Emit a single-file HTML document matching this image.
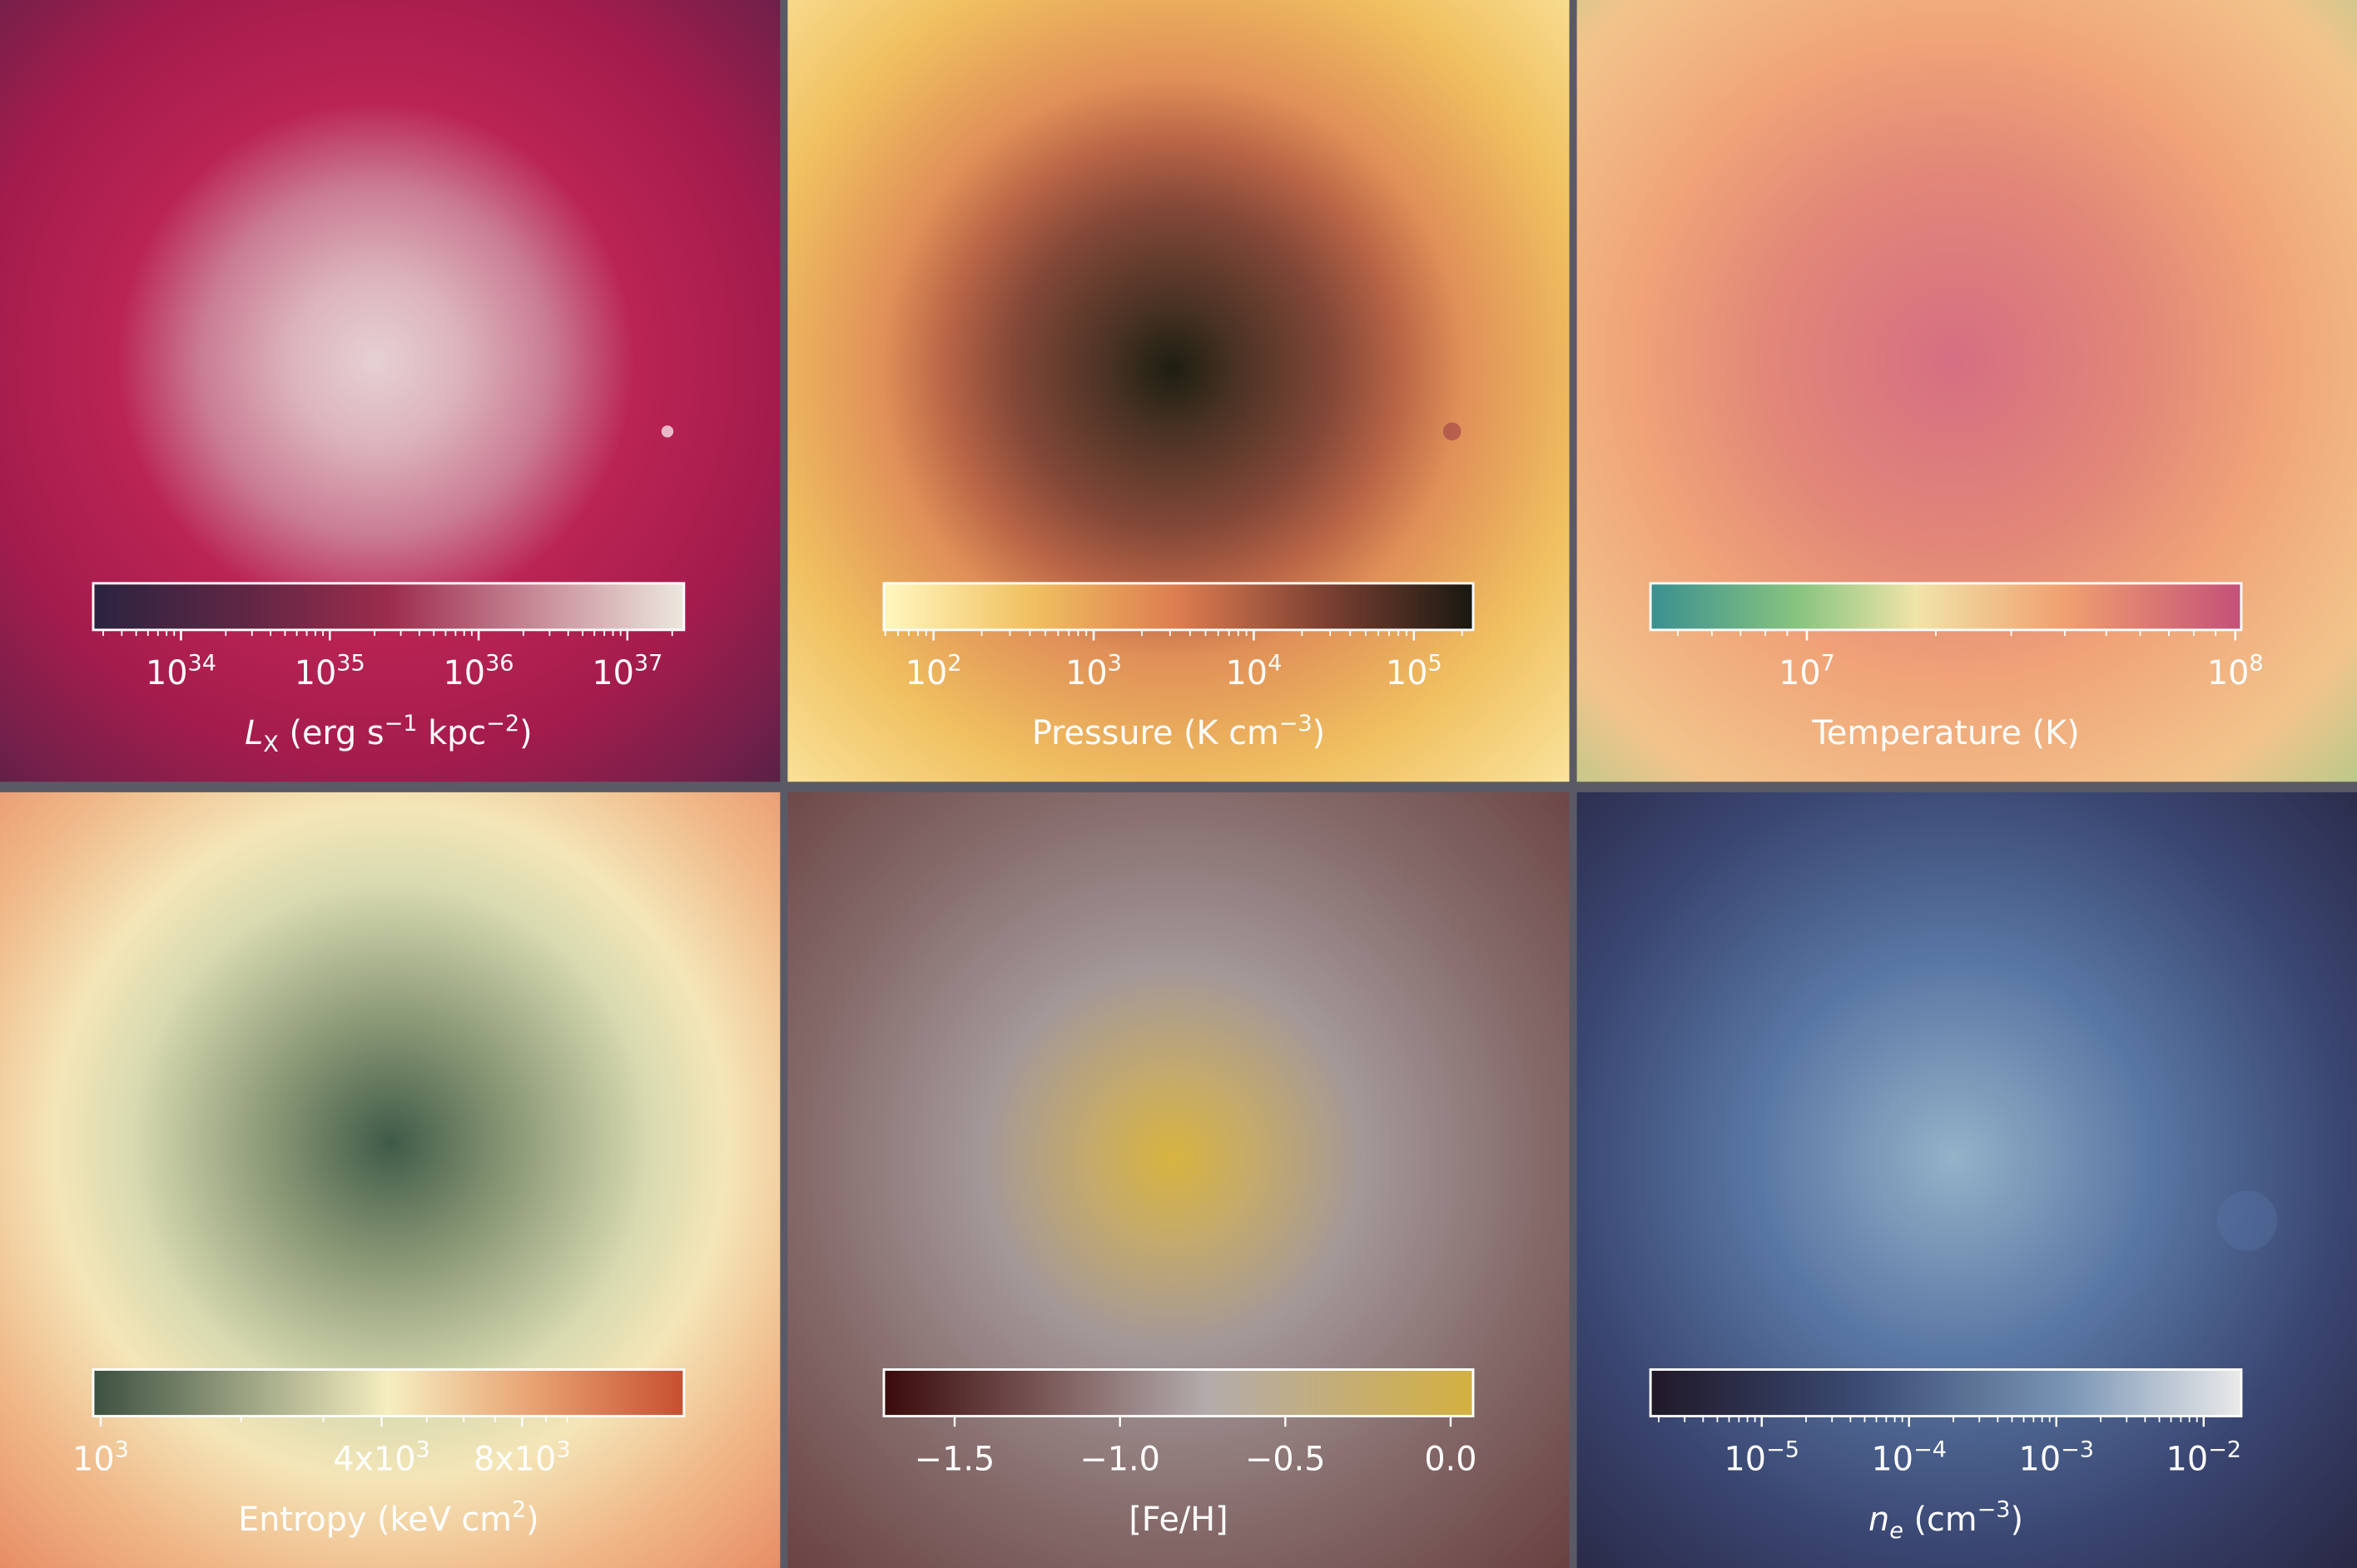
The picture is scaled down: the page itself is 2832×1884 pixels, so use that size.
<!DOCTYPE html>
<html><head><meta charset="utf-8"><style>html,body{margin:0;padding:0;background:#5a5a66}svg{display:block}text{font-family:"DejaVu Sans","Liberation Sans",sans-serif;fill:#fff}</style></head>
<body>
<svg id="fig" width="2832" height="1884" viewBox="0 0 1568 1043" preserveAspectRatio="none" xmlns="http://www.w3.org/2000/svg">
<defs>
<radialGradient id="bg1" cx="250" cy="240" r="430" gradientUnits="userSpaceOnUse"><stop offset="0" stop-color="#e6d0d4"/><stop offset="0.13" stop-color="#dcb4bc"/><stop offset="0.27" stop-color="#ca7c94"/><stop offset="0.4" stop-color="#ba2454"/><stop offset="0.62" stop-color="#a41c4c"/><stop offset="0.82" stop-color="#72204a"/><stop offset="1" stop-color="#3a2240"/></radialGradient>
<radialGradient id="bg2" cx="780" cy="245" r="430" gradientUnits="userSpaceOnUse"><stop offset="0" stop-color="#1c1e10"/><stop offset="0.1" stop-color="#4a3224"/><stop offset="0.25" stop-color="#844838"/><stop offset="0.35" stop-color="#b86446"/><stop offset="0.45" stop-color="#e09058"/><stop offset="0.65" stop-color="#f0c060"/><stop offset="1" stop-color="#fff4b8"/></radialGradient>
<radialGradient id="bg3" cx="1300" cy="240" r="430" gradientUnits="userSpaceOnUse"><stop offset="0" stop-color="#d66e82"/><stop offset="0.3" stop-color="#e28878"/><stop offset="0.5" stop-color="#f0a478"/><stop offset="0.75" stop-color="#f2c48c"/><stop offset="1" stop-color="#98cc88"/></radialGradient>
<radialGradient id="bg4" cx="260" cy="760" r="430" gradientUnits="userSpaceOnUse"><stop offset="0" stop-color="#3e5a48"/><stop offset="0.15" stop-color="#7c8c6c"/><stop offset="0.4" stop-color="#d8dab0"/><stop offset="0.52" stop-color="#f4e6b8"/><stop offset="0.7" stop-color="#f0b888"/><stop offset="0.88" stop-color="#e89068"/><stop offset="1" stop-color="#d06434"/></radialGradient>
<radialGradient id="bg5" cx="780" cy="770" r="420" gradientUnits="userSpaceOnUse"><stop offset="0" stop-color="#d8b440"/><stop offset="0.13" stop-color="#c4aa6c"/><stop offset="0.3" stop-color="#a49898"/><stop offset="0.6" stop-color="#846868"/><stop offset="1" stop-color="#603434"/></radialGradient>
<radialGradient id="bg6" cx="1300" cy="770" r="430" gradientUnits="userSpaceOnUse"><stop offset="0" stop-color="#94b2c8"/><stop offset="0.3" stop-color="#5a78a4"/><stop offset="0.6" stop-color="#3a4672"/><stop offset="1" stop-color="#221c32"/></radialGradient>
<linearGradient id="cm1"><stop offset="0" stop-color="#2a2440"/><stop offset="0.25" stop-color="#5e2644"/><stop offset="0.5" stop-color="#9c2c4c"/><stop offset="0.75" stop-color="#c88a98"/><stop offset="1" stop-color="#ece8de"/></linearGradient>
<linearGradient id="cm2"><stop offset="0" stop-color="#fff8c0"/><stop offset="0.25" stop-color="#f0c060"/><stop offset="0.5" stop-color="#dc7c50"/><stop offset="0.75" stop-color="#7c4032"/><stop offset="1" stop-color="#181810"/></linearGradient>
<linearGradient id="cm3"><stop offset="0" stop-color="#3a9090"/><stop offset="0.25" stop-color="#88c480"/><stop offset="0.45" stop-color="#f0e4a8"/><stop offset="0.7" stop-color="#f0a070"/><stop offset="1" stop-color="#c45078"/></linearGradient>
<linearGradient id="cm4"><stop offset="0" stop-color="#3c5040"/><stop offset="0.25" stop-color="#98a080"/><stop offset="0.5" stop-color="#f5eec0"/><stop offset="0.75" stop-color="#e8a070"/><stop offset="1" stop-color="#c65030"/></linearGradient>
<linearGradient id="cm5"><stop offset="0" stop-color="#3a0a0a"/><stop offset="0.3" stop-color="#806060"/><stop offset="0.55" stop-color="#b4acac"/><stop offset="1" stop-color="#d4b040"/></linearGradient>
<linearGradient id="cm6"><stop offset="0" stop-color="#201828"/><stop offset="0.35" stop-color="#3a4a72"/><stop offset="0.7" stop-color="#7894b4"/><stop offset="1" stop-color="#eaeaea"/></linearGradient>
</defs>
<rect x="0" y="0" width="1568" height="1043" fill="#5a5a66"/>
<rect x="0" y="0" width="519" height="520" fill="url(#bg1)"/>
<rect x="524" y="0" width="520" height="520" fill="url(#bg2)"/>
<rect x="1049" y="0" width="519" height="520" fill="url(#bg3)"/>
<rect x="0" y="527" width="519" height="516" fill="url(#bg4)"/>
<rect x="524" y="527" width="520" height="516" fill="url(#bg5)"/>
<rect x="1049" y="527" width="519" height="516" fill="url(#bg6)"/>
<circle cx="444" cy="287" r="4" fill="#f4e0e8" opacity="0.8"/>
<circle cx="966" cy="287" r="6" fill="#a04048" opacity="0.6"/>
<circle cx="1495" cy="812" r="20" fill="#5a78a8" opacity="0.35"/>
<g id="bars"></g>
</svg>
<script>
// colorbar 1: X-ray luminosity (log10)
const lxRange = [33.41, 37.38];
const lxMajor = [34, 35, 36, 37];
const lxLabels = ["34", "35", "36", "37"];
// colorbar 2: pressure (log10)
const pRange = [1.69, 5.37];
const pMajor = [2, 3, 4, 5];
const pLabels = ["2", "3", "4", "5"];
// colorbar 3: temperature (log10)
const tRange = [6.635, 8.014];
const tMajor = [7, 8];
const tLabels = ["7", "8"];
// colorbar 4: entropy (log10)
const sRange = [2.984, 4.25];
const sMajor = [1000, 4000, 8000];
const sLabels = ["10³", "4x10³", "8x10³"];
// colorbar 5: [Fe/H] linear
const feRange = [-1.714, 0.068];
const feMajor = [-1.5, -1.0, -0.5, 0.0];
const feLabels = ["\u22121.5", "\u22121.0", "\u22120.5", "0.0"];
// colorbar 6: electron density (log10)
const neRange = [-5.755, -1.745];
const neMajor = [-5, -4, -3, -2];
const neLabels = ["\u22125", "\u22124", "\u22123", "\u22122"];

const NS = "http://www.w3.org/2000/svg";
const root = document.getElementById('bars');
function mk(tag, attrs, parent) { const e = document.createElementNS(NS, tag); for (const k in attrs) e.setAttribute(k, attrs[k]); parent.appendChild(e); return e; }
function axis(range, x0, x1) { return v => x0 + (v - range[0]) / (range[1] - range[0]) * (x1 - x0); }

function colorbar(opt) {
  const g = mk('g', {}, root);
  
  
  const r = mk('rect', { x: opt.x0, y: opt.y, width: opt.x1 - opt.x0, height: 31, fill: 'url(#' + opt.cm + ')', stroke: '#fff', 'stroke-width': 1.6 }, g);
  
  
  const sx = axis(opt.range, opt.x0, opt.x1);
  const yb = opt.y + 31;
  if (opt.log) {
    for (let d = Math.floor(opt.range[0]); d <= Math.ceil(opt.range[1]); d++) {
      for (let m = 1; m < 10; m++) {
        const v = d + Math.log10(m);
        if (v < opt.range[0] || v > opt.range[1]) continue;
        const len = (m === 1 && opt.majorLog) ? 7 : 4;
        const t = mk('line', { x1: sx(v), x2: sx(v), y1: yb, y2: yb + len, stroke: '#fff', 'stroke-width': len === 7 ? 1.3 : 1 }, g);
        
        
      }
    }
  }
  opt.major.forEach((m, i) => {
    const v = opt.valueFn(m);
    const x = sx(v);
    const t = mk('line', { x1: x, x2: x, y1: yb, y2: yb + 7, stroke: '#fff', 'stroke-width': 1.3 }, g);
    
    
    const tx = mk('text', { x: x, y: yb + 36, 'font-size': 22, 'text-anchor': 'middle' }, g);
    
    
    if (opt.sup) {
      const a = mk('tspan', {}, tx); a.textContent = '10';
      const b = mk('tspan', { dy: -9, 'font-size': 15 }, tx); b.textContent = opt.labels[i];
    } else if (opt.entropy) {
      const base = opt.labels[i].replace('³', '');
      const a = mk('tspan', {}, tx); a.textContent = base;
      const b = mk('tspan', { dy: -9, 'font-size': 15 }, tx); b.textContent = '3';
    } else tx.textContent = opt.labels[i];
  });
  const lab = mk('text', { x: (opt.x0 + opt.x1) / 2, y: yb + 76, 'font-size': 22, 'text-anchor': 'middle' }, g);
  
  
  lab.innerHTML = opt.title;
}
const id = v => v, lg = v => Math.log10(v);
colorbar({ name: 'xray-colorbar', x0: 62, x1: 455, y: 388, cm: 'cm1', range: lxRange, major: lxMajor, labels: lxLabels, valueFn: id, log: true, majorLog: true, sup: true, title: '<tspan font-style="italic">L</tspan><tspan font-size="15" dy="5">X</tspan><tspan dy="-5"> (erg s</tspan><tspan font-size="15" dy="-9">\u22121</tspan><tspan dy="9"> kpc</tspan><tspan font-size="15" dy="-9">\u22122</tspan><tspan dy="9">)</tspan>' });
colorbar({ name: 'pressure-colorbar', x0: 588, x1: 980, y: 388, cm: 'cm2', range: pRange, major: pMajor, labels: pLabels, valueFn: id, log: true, majorLog: true, sup: true, title: 'Pressure (K cm<tspan font-size="15" dy="-9">\u22123</tspan><tspan dy="9">)</tspan>' });
colorbar({ name: 'temperature-colorbar', x0: 1098, x1: 1491, y: 388, cm: 'cm3', range: tRange, major: tMajor, labels: tLabels, valueFn: id, log: true, majorLog: true, sup: true, title: 'Temperature (K)' });
colorbar({ name: 'entropy-colorbar', x0: 62, x1: 455, y: 911, cm: 'cm4', range: sRange, major: sMajor, labels: sLabels, valueFn: lg, log: true, majorLog: false, entropy: true, title: 'Entropy (keV cm<tspan font-size="15" dy="-9">2</tspan><tspan dy="9">)</tspan>' });
colorbar({ name: 'metallicity-colorbar', x0: 588, x1: 980, y: 911, cm: 'cm5', range: feRange, major: feMajor, labels: feLabels, valueFn: id, log: false, title: '[Fe/H]' });
colorbar({ name: 'density-colorbar', x0: 1098, x1: 1491, y: 911, cm: 'cm6', range: neRange, major: neMajor, labels: neLabels, valueFn: id, log: true, majorLog: true, sup: true, title: '<tspan font-style="italic">n</tspan><tspan font-size="15" dy="5" font-style="italic">e</tspan><tspan dy="-5"> (cm</tspan><tspan font-size="15" dy="-9">\u22123</tspan><tspan dy="9">)</tspan>' });
</script>
</body></html>
